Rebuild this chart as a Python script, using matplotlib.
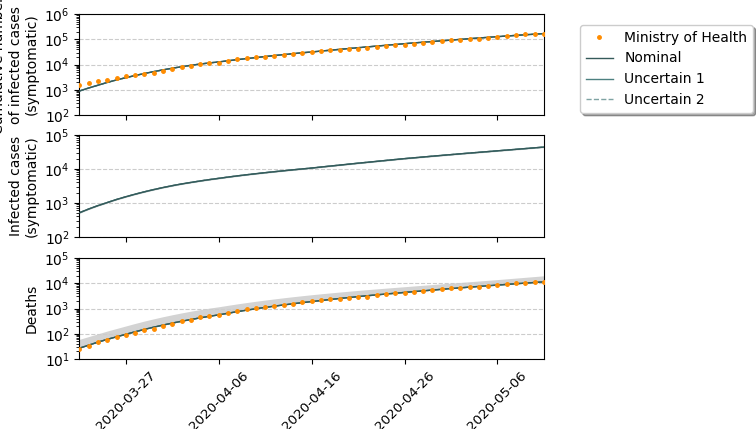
import matplotlib
matplotlib.use("Agg")
import matplotlib.pyplot as plt
import matplotlib.dates as mdates
import matplotlib.ticker as mticker
import numpy as np
import pandas as pd

dates = pd.date_range("2020-03-22", "2020-05-11", freq="D")

# Ministry of Health data
mh_cases = [1546, 1924, 2247, 2554, 2985, 3417, 3904, 4256, 4579, 5717,
            6836, 8044, 9056, 10278, 11130, 12056, 13717, 15927, 17857, 19638,
            20727, 22169, 23430, 25262, 28320, 30425, 33682, 36599, 38654, 40581,
            43079, 45757, 49492, 52995, 58509, 61888, 66501, 71886, 78162, 85380,
            91299, 96396, 101147, 107780, 114715, 125218, 135106, 145328, 155939, 162699,
            168331]
mh_deaths = [25, 34, 46, 59, 77, 92, 111, 136, 159, 201,
             240, 324, 359, 445, 486, 553, 667, 800, 941, 1056,
             1124, 1223, 1328, 1532, 1736, 1924, 2141, 2354, 2462, 2575,
             2741, 2906, 3331, 3704, 4057, 4286, 4603, 5017, 5466, 5901,
             6329, 6750, 7025, 7321, 7921, 8536, 9146, 9897, 10627, 11123,
             11519]

# Model: cumulative symptomatic cases
cum_nominal = [891, 1175, 1514, 1950, 2455, 3020, 3673, 4416, 5248, 6166,
               7161, 8222, 9333, 10470, 11610, 12740, 14130, 15670, 17260, 18970,
               20800, 22750, 24830, 27040, 29380, 31620, 34280, 37070, 40090, 43250,
               46670, 50230, 54080, 58210, 62660, 67450, 72110, 77090, 82220, 87700,
               93540, 99770, 106400, 113200, 120500, 128200, 135800, 143900, 152100, 160700,
               169800]

# Model: active symptomatic infected cases
inf_nominal = [513, 661, 832, 1023, 1259, 1514, 1799, 2113, 2455, 2818,
               3199, 3589, 3981, 4395, 4819, 5248, 5715, 6194, 6683, 7178,
               7691, 8222, 8770, 9333, 9908, 10520, 11250, 12020, 12820, 13680,
               14590, 15520, 16520, 17580, 18710, 19860, 20990, 22180, 23440, 24720,
               26060, 27480, 28910, 30410, 31990, 33650, 35400, 37240, 39170, 41210,
               43350]
inf_low = [492, 635, 799, 982, 1209, 1453, 1727, 2028, 2357, 2705,
           3071, 3445, 3822, 4219, 4626, 5038, 5486, 5946, 6416, 6891,
           7383, 7893, 8419, 8960, 9512, 10100, 10800, 11540, 12310, 13130,
           14010, 14900, 15860, 16880, 17960, 19070, 20150, 21290, 22500, 23730,
           25020, 26380, 27750, 29190, 30710, 32300, 33980, 35750, 37600, 39560,
           41620]

# Model: deaths
death_nominal = [26.9, 35.5, 46.8, 60.3, 75.9, 95.5, 120.2, 149.6, 182.8, 221.3,
                 264.9, 314.1, 368.1, 427.6, 492.0, 562.3, 653.1, 753.4, 863.0, 981.7,
                 1109, 1245, 1390, 1545, 1710, 1888, 2080, 2280, 2495, 2723,
                 2965, 3214, 3475, 3750, 4036, 4345, 4667, 5012, 5383, 5768,
                 6166, 6592, 7031, 7499, 7980, 8492, 9016, 9572, 10140, 10740,
                 11380]
death_high = [60.3, 77.6, 100, 128.8, 162.2, 204.2, 257.0, 319.9, 391.7, 474.2,
              567.5, 671.4, 785.2, 909.9, 1042, 1175, 1343, 1528, 1726, 1941,
              2168, 2410, 2667, 2938, 3221, 3524, 3828, 4150, 4487, 4842,
              5212, 5598, 5998, 6412, 6855, 7311, 7816, 8356, 8913, 9506,
              10140, 10810, 11530, 12300, 13120, 14000, 15000, 16070, 17220, 18450,
              19770]

ylabels = ["Cumulative number\nof infected cases\n(symptomatic)",
           "Infected cases\n(symptomatic)",
           "Deaths"]
ylims = [(1e2, 1e6), (1e2, 1e5), (1e1, 1e5)]
tick_dates = pd.date_range("2020-03-27", "2020-05-06", freq="10D")

line_col = "#355a5a"
u1_col = "#4d8080"
u2_col = "#7fa3a3"
orange = "#ff8c00"

fig = plt.figure(figsize=(7.56, 4.29), dpi=100)
left, width = 0.105, 0.6145
boxes = [(0.732, 0.967), (0.4476, 0.686), (0.163, 0.3986)]
axes = []
for i, (b, t) in enumerate(boxes):
    ax = fig.add_axes([left, b, width, t - b], sharex=axes[0] if axes else None)
    axes.append(ax)

series = [(cum_nominal, None, None, mh_cases),
          (inf_nominal, inf_low, inf_nominal, None),
          (death_nominal, death_nominal, death_high, mh_deaths)]

handles = None
for i, ax in enumerate(axes):
    nom, lo, hi, obs = series[i]
    if lo is not None:
        ax.fill_between(dates, lo, hi, color="#d3d3d3", lw=0, zorder=1)
    h_u2, = ax.plot(dates, nom, color=u2_col, lw=1.0, ls="--", zorder=2,
                    label="Uncertain 2")
    h_u1, = ax.plot(dates, nom, color=u1_col, lw=1.0, zorder=2,
                    label="Uncertain 1")
    h_nom, = ax.plot(dates, nom, color=line_col, lw=1.0, zorder=3, label="Nominal")
    if obs is not None:
        h_obs, = ax.plot(dates, obs, ls="none", marker=".", ms=5, color=orange,
                         zorder=4, label="Ministry of Health")
        if handles is None:
            handles = [h_obs, h_nom, h_u1, h_u2]
    ax.set_yscale("log")
    ax.set_ylim(*ylims[i])
    ax.yaxis.set_major_locator(mticker.LogLocator(base=10, numticks=12))
    ax.yaxis.set_minor_locator(mticker.LogLocator(base=10, subs=np.arange(2, 10),
                                                  numticks=12))
    ax.yaxis.set_minor_formatter(mticker.NullFormatter())
    ax.set_xlim(dates[0], dates[-1])
    ax.grid(axis="y", which="major", ls="--", color="#cccccc", lw=0.8)
    ax.set_ylabel(ylabels[i], fontsize=10)
    ax.set_xticks(tick_dates)
    if i < 2:
        ax.tick_params(labelbottom=False)

axes[2].xaxis.set_major_formatter(mdates.DateFormatter("%Y-%m-%d"))
for lbl in axes[2].get_xticklabels():
    lbl.set_rotation(45)
    lbl.set_fontsize(9.6)

fig.legend(handles=handles, labels=[h.get_label() for h in handles],
           loc="upper left", bbox_to_anchor=(0.758, 0.958), shadow=True,
           fontsize=10, framealpha=1)

fig.savefig("out.png", dpi=100)
